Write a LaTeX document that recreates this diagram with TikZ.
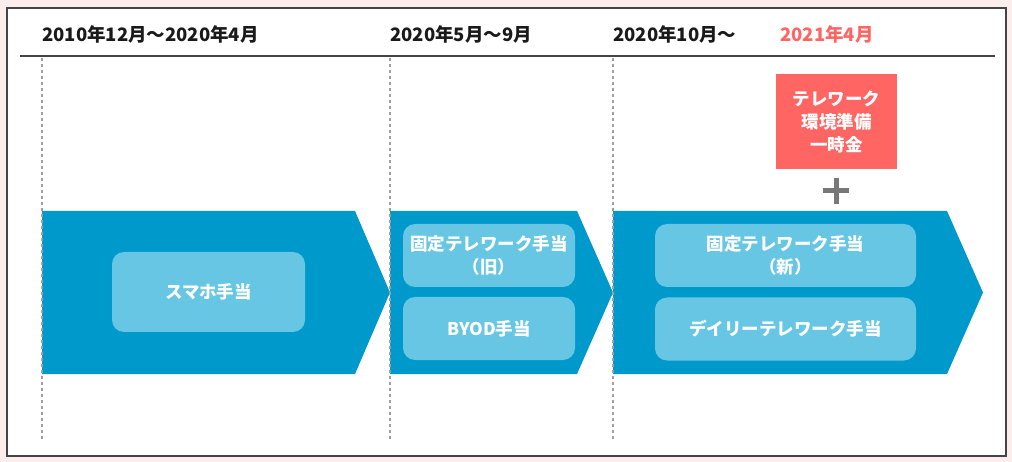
\documentclass[tikz,border=0pt]{standalone}
\usepackage{fontspec}
\setmainfont{Noto Sans CJK JP}
\definecolor{bgpink}{RGB}{252,237,237}
\definecolor{framegray}{RGB}{68,68,68}
\definecolor{chevblue}{RGB}{0,153,204}
\definecolor{boxblue}{RGB}{102,198,228}
\definecolor{redbox}{RGB}{255,102,99}
\definecolor{dashgray}{RGB}{160,160,160}
\definecolor{plusgray}{RGB}{120,120,120}
\definecolor{headtext}{RGB}{26,26,26}
\begin{document}
\begin{tikzpicture}[x=1pt,y=-1pt,
  headlabel/.style={anchor=west,inner sep=0pt,font=\fontsize{18.5}{22}\selectfont\bfseries,text=headtext},
  chevron/.style={fill=chevblue,draw=none},
  itembox/.style={fill=boxblue,rounded corners=12pt,draw=none,inner sep=0pt,align=center,text=white,
    font=\fontsize{17.5}{23}\selectfont\bfseries},
  timeline/.style={draw=dashgray,line width=1.2pt,dash pattern=on 3pt off 3pt}]
\useasboundingbox (0,0) rectangle (1012,462);
\fill[bgpink] (0,0) rectangle (1012,462);
\draw[framegray,fill=white,line width=2pt] (7,8) rectangle (1006,456);
% header
\draw[framegray,line width=2pt] (20,56) -- (995,56);
\node[headlabel] (h1) at (42,34.5) {2010年12月～2020年4月};
\node[headlabel] (h2) at (390,34.5) {2020年5月～9月};
\node[headlabel] (h3) at (613,34.5) {2020年10月～};
\node[headlabel,text=redbox] (h4) at (780,34.5) {2021年4月};
% chevrons
\fill[chevron] (42,211) -- (355,211) -- (390,292.5) -- (355,374) -- (42,374) -- cycle;
\fill[chevron] (390,211) -- (577,211) -- (613,292.5) -- (577,374) -- (390,374) -- cycle;
\fill[chevron] (613,211) -- (947,211) -- (983,292.5) -- (947,374) -- (613,374) -- cycle;
% dashed timelines
\draw[timeline] (42,58) -- (42,439);
\draw[timeline] (390,58) -- (390,439);
\draw[timeline] (613,58) -- (613,439);
% item boxes
\node[itembox,minimum width=193pt,minimum height=80pt] (smaho) at (208.5,292) {スマホ手当};
\node[itembox,minimum width=172pt,minimum height=63pt] (koteiold) at (489,255.5) {固定テレワーク手当\\（旧）};
\node[itembox,minimum width=172pt,minimum height=63pt] (byod) at (489,328.5) {BYOD手当};
\node[itembox,minimum width=261pt,minimum height=63pt] (koteinew) at (785.5,255.5) {固定テレワーク手当\\（新）};
\node[itembox,minimum width=261pt,minimum height=63pt] (daily) at (785.5,329) {デイリーテレワーク手当};
% red one-time payment
\node[itembox,fill=redbox,rounded corners=0pt,minimum width=121pt,minimum height=95pt] (ichiji) at (836.5,121.5) {テレワーク\\環境準備\\一時金};
\coordinate (plus) at (836,191);
\draw[plusgray,line width=5pt] ([xshift=-13pt]plus) -- ([xshift=13pt]plus)
  ([yshift=-13pt]plus) -- ([yshift=13pt]plus);
\end{tikzpicture}
\end{document}
